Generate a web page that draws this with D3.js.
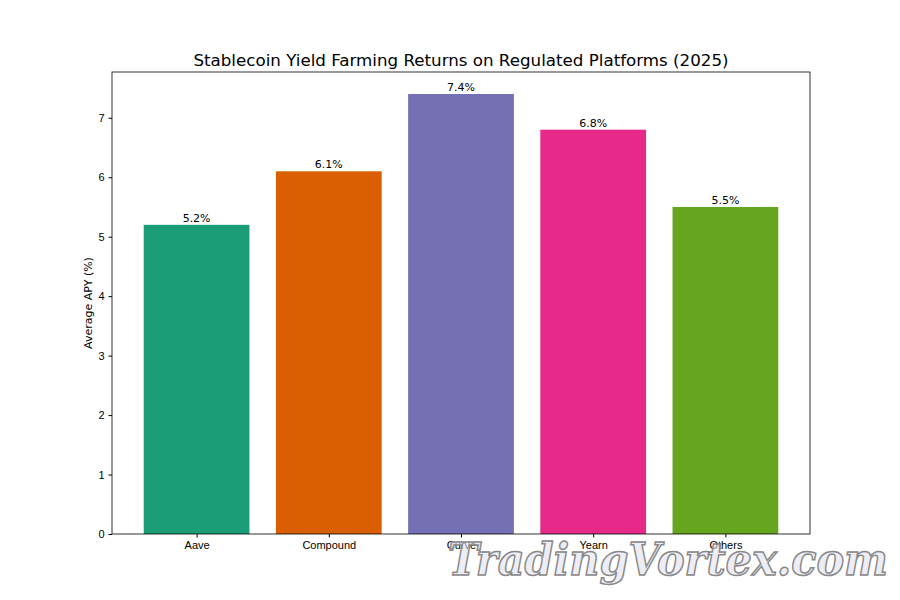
<!DOCTYPE html>
<html><head><meta charset="utf-8">
<script src="https://cdn.jsdelivr.net/npm/d3@7"></script>
<style>body{margin:0;background:#fff}svg{font-family:"DejaVu Sans",sans-serif}</style>
</head><body><svg id="c" width="900" height="600"></svg>
<script>
const categories=["Aave","Compound","Curve","Yearn","Others"];
const values=[5.2,6.1,7.4,6.8,5.5];
const colors=["#1b9e77","#d95f02","#7570b3","#e7298a","#66a61e"];
const yTicks=[0,1,2,3,4,5,6,7];
const L=112,R=810,T=72,B=534;
const svg=d3.select("#c");
const x=d3.scaleLinear().domain([-0.64,4.64]).range([L,R]);
const y=d3.scaleLinear().domain([0,7.77]).range([B,T]);
svg.selectAll("rect.bar").data(values).enter().append("rect")
 .attr("x",(d,i)=>x(i-0.4)).attr("width",x(0.8)-x(0))
 .attr("y",d=>y(d)).attr("height",d=>B-y(d)).attr("fill",(d,i)=>colors[i]);
svg.selectAll("text.lab").data(values).enter().append("text")
 .attr("x",(d,i)=>x(i)).attr("y",d=>y(d)-3).attr("text-anchor","middle")
 .attr("font-size",11).text(d=>d.toFixed(1)+"%");
const ya=svg.append("g").attr("transform",`translate(${L},0)`)
 .call(d3.axisLeft(y).tickValues(yTicks).tickSize(3.5).tickPadding(4));
const xa=svg.append("g").attr("transform",`translate(0,${B})`)
 .call(d3.axisBottom(x).tickValues([0,1,2,3,4]).tickFormat(i=>categories[i]).tickSize(3.5).tickPadding(4));
[ya,xa].forEach(a=>{a.select(".domain").remove();a.selectAll("text").attr("font-size",11).attr("fill","#000");a.selectAll("line").attr("stroke","#000");});
svg.append("rect").attr("x",L).attr("y",T).attr("width",R-L).attr("height",B-T).attr("fill","none").attr("stroke","#000").attr("stroke-width",0.8);
svg.append("text").attr("x",(L+R)/2).attr("y",66).attr("text-anchor","middle").attr("font-size",16.7).text("Stablecoin Yield Farming Returns on Regulated Platforms (2025)");
svg.append("text").attr("transform",`translate(92,${(T+B)/2}) rotate(-90)`).attr("text-anchor","middle").attr("font-size",11).text("Average APY (%)");
svg.append("text").attr("x",448).attr("y",575).attr("font-size",44).attr("font-style","italic").attr("font-weight","bold")
 .attr("textLength",440).attr("lengthAdjust","spacingAndGlyphs")
 .attr("font-family","DejaVu Serif").attr("fill","rgba(225,225,240,0.6)").attr("stroke","#888").attr("stroke-width",1.5).text("TradingVortex.com");
</script></body></html>
